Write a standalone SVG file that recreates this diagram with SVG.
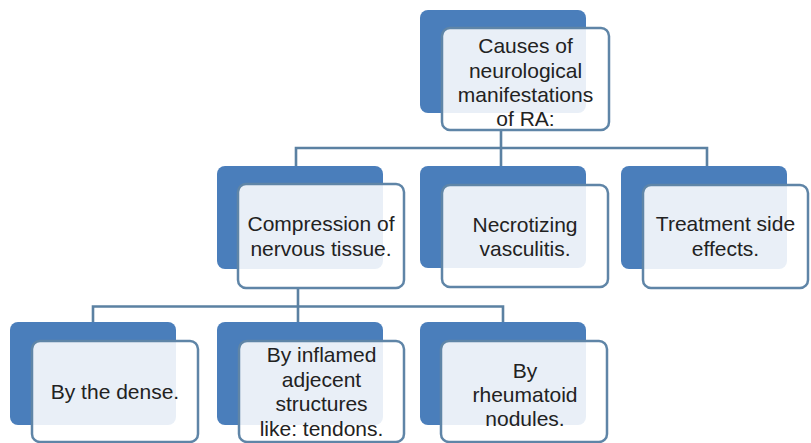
<svg xmlns="http://www.w3.org/2000/svg" width="811" height="443" viewBox="0 0 811 443">
<style>
.back{fill:#4a7ebb;}
.front{fill:#ffffff;fill-opacity:0.88;stroke:#5f85a7;stroke-width:2.5;}
.lbl{font-family:"Liberation Sans",Arial,sans-serif;font-size:21px;fill:#222222;text-anchor:middle;}
.conn{fill:none;stroke:#5b81a2;stroke-width:2.6;}
</style>
<rect width="811" height="443" fill="#ffffff"/>
<g id="connectors">
<path class="conn" d="M501,130 V166 M296,166 V148 H707 V166"/>
<path class="conn" d="M298,288 V322 M93,322 V306.5 H503 V322"/>
</g>
<g id="root">
<rect class="back" x="420" y="10" width="166" height="103" rx="8"/>
<rect class="front" x="442" y="28" width="167" height="102" rx="8"/>
<text class="lbl"><tspan x="525.5" y="53">Causes of</tspan><tspan x="525.5" y="77.5">neurological</tspan><tspan x="525.5" y="101.5">manifestations</tspan><tspan x="525.5" y="126">of RA:</tspan></text>
</g>
<g id="compression">
<rect class="back" x="217" y="166" width="166" height="103" rx="8"/>
<rect class="front" x="238" y="184" width="166" height="104" rx="8"/>
<text class="lbl"><tspan x="321" y="231">Compression of</tspan><tspan x="321" y="256">nervous tissue.</tspan></text>
</g>
<g id="necrotizing">
<rect class="back" x="420" y="166" width="166" height="102" rx="8"/>
<rect class="front" x="442" y="185" width="166" height="102" rx="8"/>
<text class="lbl"><tspan x="525" y="232">Necrotizing</tspan><tspan x="525" y="256">vasculitis.</tspan></text>
</g>
<g id="treatment">
<rect class="back" x="621" y="166" width="166" height="103" rx="8"/>
<rect class="front" x="643" y="185" width="165" height="103" rx="8"/>
<text class="lbl"><tspan x="725.5" y="231">Treatment side</tspan><tspan x="725.5" y="256">effects.</tspan></text>
</g>
<g id="dense">
<rect class="back" x="10" y="322" width="166" height="103" rx="8"/>
<rect class="front" x="32" y="341" width="166" height="101" rx="8"/>
<text class="lbl" x="115" y="399">By the dense.</text>
</g>
<g id="inflamed">
<rect class="back" x="217" y="322" width="166" height="103" rx="8"/>
<rect class="front" x="239" y="341" width="165" height="101" rx="8"/>
<text class="lbl"><tspan x="321.5" y="362">By inflamed</tspan><tspan x="321.5" y="386.5">adjecent</tspan><tspan x="321.5" y="411">structures</tspan><tspan x="321.5" y="436">like: tendons.</tspan></text>
</g>
<g id="rheumatoid">
<rect class="back" x="420" y="322" width="166" height="103" rx="8"/>
<rect class="front" x="441" y="341" width="166" height="101" rx="8"/>
<text class="lbl"><tspan x="525" y="378">By</tspan><tspan x="525" y="402">rheumatoid</tspan><tspan x="525" y="425.5">nodules.</tspan></text>
</g>
</svg>
